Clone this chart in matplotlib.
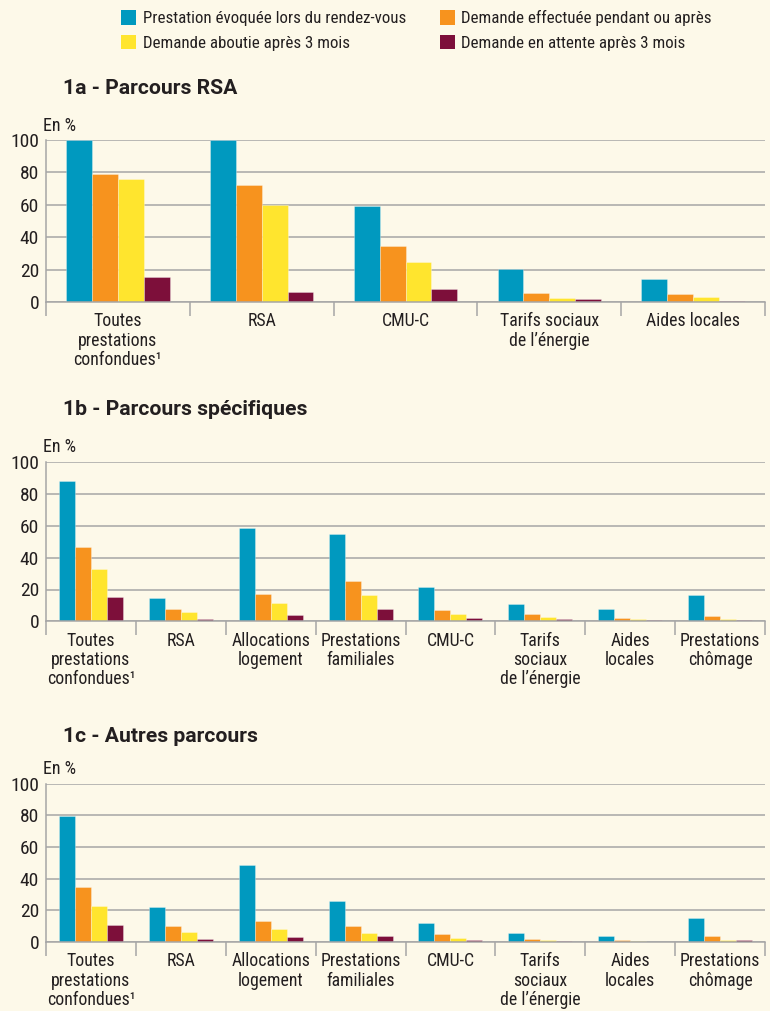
import numpy as np
import matplotlib
matplotlib.use("Agg")
import matplotlib.pyplot as plt
from matplotlib.patches import Patch

plt.rcParams['font.family'] = ['Roboto Condensed', 'DejaVu Sans']

series = ["Prestation évoquée lors du rendez-vous",
          "Demande effectuée pendant ou après",
          "Demande aboutie après 3 mois",
          "Demande en attente après 3 mois"]
colors = ["#0099bf", "#f7931e", "#ffe52e", "#7d0f3a"]

cats_a = ["Toutes\nprestations\nconfondues¹", "RSA", "CMU-C",
          "Tarifs sociaux\nde l’énergie", "Aides locales"]
vals_a = [
    [100, 100, 59, 20.4, 14.2],
    [79, 72, 34.4, 5.3, 4.9],
    [76, 60, 24.5, 2.2, 3.1],
    [15.4, 6.4, 8.0, 1.8, 0.6],
]

cats_bc = ["Toutes\nprestations\nconfondues¹", "RSA", "Allocations\nlogement",
           "Prestations\nfamiliales", "CMU-C", "Tarifs\nsociaux\nde l’énergie",
           "Aides\nlocales", "Prestations\nchômage"]
vals_b = [
    [88, 14.7, 58.5, 55.1, 21.4, 10.9, 7.7, 16.8],
    [47, 7.9, 17, 25.2, 7.1, 4.6, 2.3, 3.5],
    [33, 5.8, 11.7, 16.5, 4.8, 2.7, 1.5, 1.5],
    [15.3, 1.2, 3.8, 7.5, 1.9, 1.2, 0.8, 1.0],
]
vals_c = [
    [79.4, 22.3, 48.4, 25.7, 11.8, 5.5, 3.6, 15.4],
    [34.7, 9.9, 13.5, 9.9, 4.9, 1.7, 1.3, 3.6],
    [22.5, 6.3, 8.4, 5.9, 2.7, 1.1, 0.6, 1.3],
    [10.5, 1.7, 3.2, 3.6, 1.3, 0.6, 0.2, 1.1],
]

titles = ["1a - Parcours RSA", "1b - Parcours spécifiques", "1c - Autres parcours"]
yticks = [0, 20, 40, 60, 80, 100]

BG = "#fdf9e9"
GRID = "#a6a6a6"
TXT = "#231f20"

W, H = 770, 1011
fig = plt.figure(figsize=(W / 100, H / 100), dpi=100, facecolor=BG)


def px_axes(x0, y_top, x1, y_bot):
    return fig.add_axes([x0 / W, 1 - y_bot / H, (x1 - x0) / W, (y_bot - y_top) / H])


def draw_panel(ax, cats, vals, bw):
    n = len(cats)
    x = np.arange(n) + 0.5
    offs = (np.arange(4) - 1.5) * bw
    for k in range(4):
        ax.bar(x + offs[k], vals[k], width=bw, color=colors[k],
               edgecolor=(1, 1, 1, 0.35), linewidth=0.6, zorder=3)
    ax.set_facecolor(BG)
    ax.set_xlim(0, n)
    ax.set_ylim(0, 100)
    ax.set_yticks(yticks)
    ax.yaxis.grid(True, color=GRID, lw=1.1)
    ax.set_axisbelow(True)
    for s in ["top", "right"]:
        ax.spines[s].set_visible(False)
    for s in ["left", "bottom"]:
        ax.spines[s].set_color(GRID)
        ax.spines[s].set_linewidth(1.1)
    ax.spines["bottom"].set_zorder(4)
    ax.tick_params(axis="y", length=0, pad=5, labelsize=14, labelcolor=TXT)
    ax.set_xticks(np.arange(n + 1))
    ax.set_xticklabels([])
    ax.tick_params(axis="x", which="major", length=10, width=1.1, color=GRID)
    ax.set_xticks(x, minor=True)
    ax.set_xticklabels(cats, minor=True, fontsize=12.8, color=TXT,
                       linespacing=1.08)
    ax.tick_params(axis="x", which="minor", length=0, pad=7.5)


ax_a = px_axes(46, 140, 765, 302)
draw_panel(ax_a, cats_a, vals_a, 0.18)
ax_b = px_axes(46, 462.3, 765, 621.3)
draw_panel(ax_b, cats_bc, vals_b, 0.178)
ax_c = px_axes(46, 783.7, 765, 942)
draw_panel(ax_c, cats_bc, vals_c, 0.178)

for t, ytop in zip(titles, [89, 410, 736]):
    fig.text(63 / W, 1 - ytop / H, t, fontsize=15.2, fontweight="bold",
             family=["Roboto", "DejaVu Sans"],
             color=TXT, va="center", ha="left")
for ytop in [126, 447, 769]:
    fig.text(43 / W, 1 - ytop / H, "En %", fontsize=13, color=TXT,
             va="center", ha="left")

handles = [Patch(facecolor=colors[k]) for k in [0, 2, 1, 3]]
labels = [series[k] for k in [0, 2, 1, 3]]
fig.legend(handles, labels, ncol=2, loc="center left",
           bbox_to_anchor=(106 / W, 1 - 30.5 / H), frameon=False,
           fontsize=12.2, handlelength=0.9, handleheight=0.9,
           handletextpad=0.36, columnspacing=2.0, labelspacing=0.5,
           labelcolor=TXT)

fig.savefig("out.png", dpi=100, facecolor=BG)
